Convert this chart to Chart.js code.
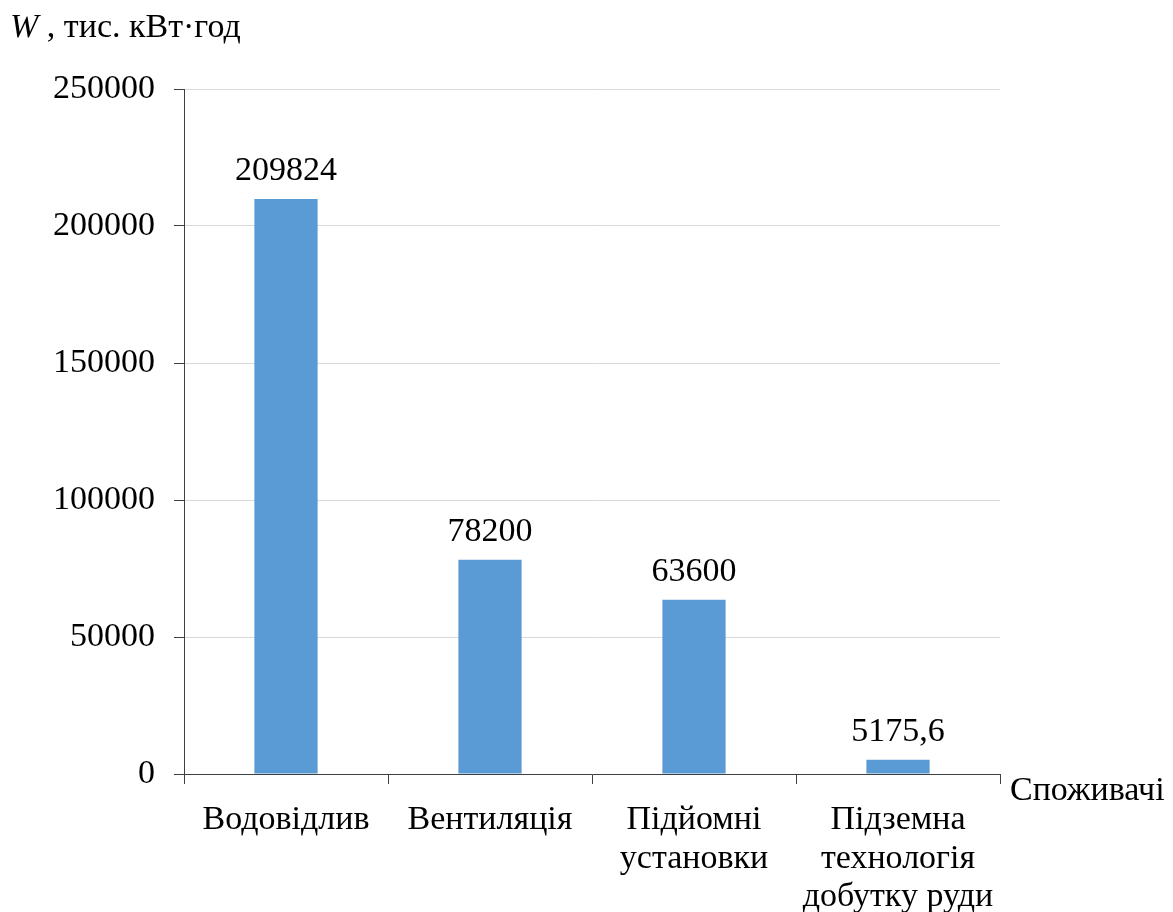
<!DOCTYPE html>
<html>
<head>
<meta charset="utf-8">
<script src="https://cdn.jsdelivr.net/npm/chart.js@4"></script>
<style>
  body { margin: 0; background: #fff; }
  #wrap { width: 1173px; height: 912px; }
</style>
</head>
<body>
<div id="wrap"><canvas id="myChart"></canvas></div>
<script>
const categories = [
    'Водовідлив',
    'Вентиляція',
    ['Підйомні', 'установки'],
    ['Підземна', 'технологія', 'добутку руди']
];
const energyValues = [209824, 78200, 63600, 5175.6];
const valueLabels = ['209824', '78200', '63600', '5175,6'];
const yTicks = [0, 50000, 100000, 150000, 200000, 250000];

const serif = '"Liberation Serif", "Times New Roman", serif';
const fontSize = 34;

// value labels above bars + axis captions
const extraText = {
    id: 'extraText',
    afterDatasetsDraw(chart) {
        const c = chart.ctx;
        c.save();
        c.fillStyle = '#000';
        c.font = fontSize + 'px ' + serif;
        c.textAlign = 'center';
        c.textBaseline = 'middle';
        chart.getDatasetMeta(0).data.forEach((bar, i) => {
            c.fillText(valueLabels[i], bar.x, bar.y - 28);
        });
        // y axis caption
        c.textAlign = 'left';
        c.font = 'italic ' + fontSize + 'px ' + serif;
        c.fillText('W', 10, 28);
        const w = c.measureText('W').width;
        c.font = fontSize + 'px ' + serif;
        c.fillText(' , тис. кВт·год', 10 + w, 28);
        // x axis caption
        c.fillText('Споживачі', chart.chartArea.right + 10, chart.chartArea.bottom + 17);
        c.restore();
    }
};

const ctx = document.getElementById('myChart');
new Chart(ctx, {
    type: 'bar',
    data: {
        labels: categories,
        datasets: [{
            data: energyValues,
            backgroundColor: '#5b9bd5',
            categoryPercentage: 1,
            barPercentage: 0.31
        }]
    },
    options: {
        responsive: true,
        maintainAspectRatio: false,
        animation: false,
        layout: { padding: { top: 89, right: 173, left: 0, bottom: 0 } },
        plugins: {
            legend: { display: false },
            tooltip: { enabled: false }
        },
        scales: {
            x: {
                offset: true,
                grid: {
                    offset: true,
                    drawOnChartArea: false,
                    tickLength: 10,
                    tickColor: '#404040'
                },
                border: { color: '#404040', width: 1 },
                ticks: {
                    color: '#000',
                    font: { family: serif, size: fontSize, lineHeight: 1.13 },
                    padding: 17,
                    maxRotation: 0,
                    autoSkip: false
                },
                afterFit: s => { s.height = 138; }
            },
            y: {
                min: 0,
                max: 250000,
                afterBuildTicks: s => { s.ticks = yTicks.map(v => ({ value: v })); },
                grid: {
                    color: '#d9d9d9',
                    tickLength: 10,
                    tickColor: '#404040'
                },
                border: { color: '#404040', width: 1 },
                ticks: {
                    color: '#000',
                    font: { family: serif, size: fontSize },
                    padding: 19,
                    callback: v => String(v)
                },
                afterFit: s => { s.width = 184; }
            }
        }
    },
    plugins: [extraText]
});
</script>
</body>
</html>
